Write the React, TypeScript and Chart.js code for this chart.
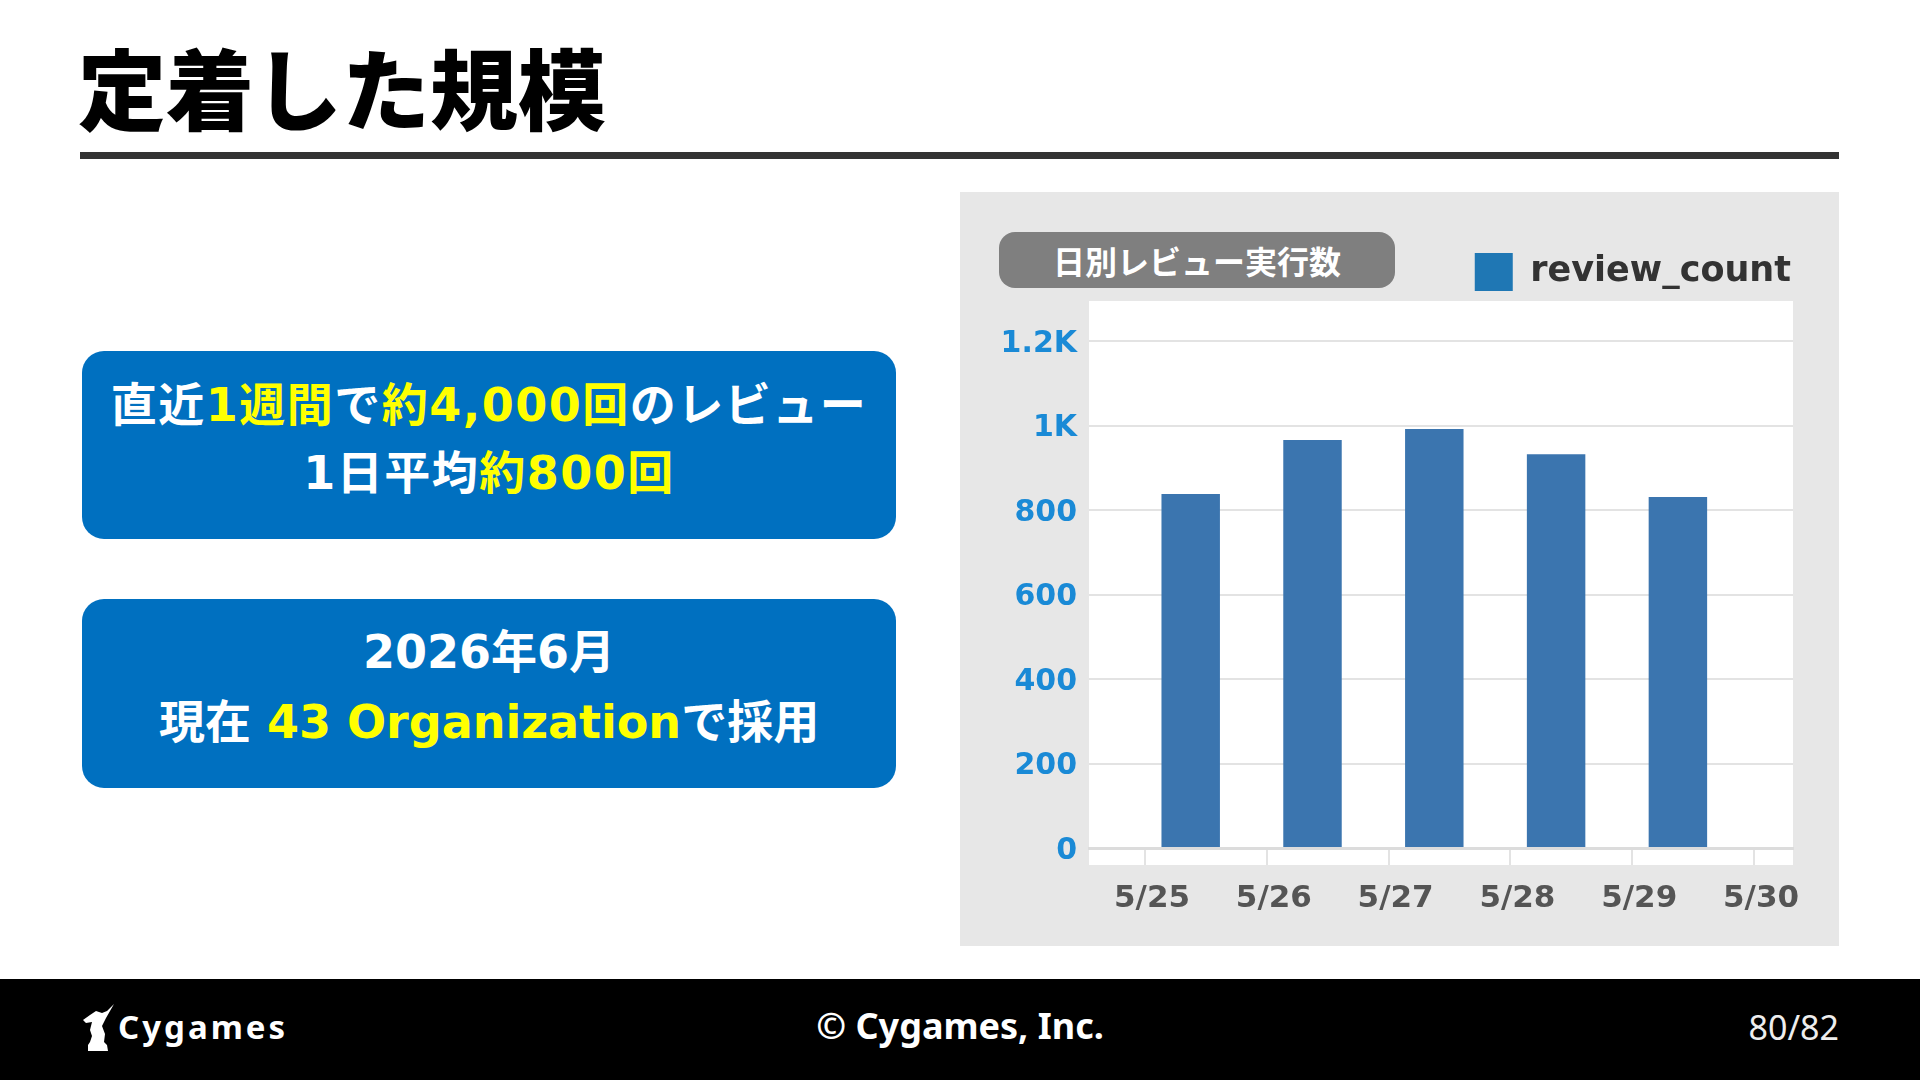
import React, { useEffect, useRef } from "react";
import { Chart, registerables } from "chart.js";

Chart.register(...registerables);

// ---- data ----
const dateLabels = ["5/25", "5/26", "5/27", "5/28", "5/29", "5/30"];
const reviewCounts = [838, 966, 992, 932, 831];
const seriesName = "review_count";
const chartTitle = "日別レビュー実行数";
const utcOffsetDays = 9 / 24; // bars timestamped 00:00 UTC shown on a JST day axis
const yTickStep = 200;
const yTickMax = 1200;

const plotBackground = {
  id: "plotBackground",
  beforeDraw(chart: any) {
    const { ctx, chartArea: a } = chart;
    ctx.save();
    ctx.fillStyle = "#ffffff";
    ctx.fillRect(a.left, a.top, a.right - a.left, a.bottom - a.top + 17);
    ctx.restore();
  },
};

const legendNudge = {
  id: "legendNudge",
  afterLayout(chart: any) {
    if (chart.legend) {
      chart.legend.left += 8;
      chart.legend.right += 8;
    }
  },
};

function ReviewChart() {
  const ref = useRef<HTMLCanvasElement | null>(null);
  useEffect(() => {
    if (!ref.current) return;
    const chart = new Chart(ref.current, {
      type: "bar",
      data: {
        datasets: [
          {
            label: seriesName,
            data: reviewCounts.map((v, i) => ({ x: i + utcOffsetDays, y: v })),
            backgroundColor: "#3b75af",
            borderWidth: 0,
            categoryPercentage: 0.8,
            barPercentage: 0.6,
          },
        ],
      },
      options: {
        animation: false,
        responsive: true,
        maintainAspectRatio: false,
        layout: { padding: { left: 0, right: 46, top: 0, bottom: 0 } },
        plugins: {
          tooltip: { enabled: false },
          legend: {
            position: "top",
            align: "end",
            labels: {
              boxWidth: 38,
              boxHeight: 38,
              padding: 10,
              color: "#333333",
              font: { family: "'DejaVu Sans'", weight: "bold", size: 35 },
              generateLabels: (c: any) =>
                Chart.defaults.plugins.legend.labels
                  .generateLabels(c)
                  .map((l: any) => ({ ...l, fillStyle: "#1f77b4", strokeStyle: "#1f77b4", lineWidth: 0 })),
            },
          },
        },
        scales: {
          x: {
            type: "linear",
            min: -0.46,
            max: 5.32,
            offset: false,
            afterFit: (s: any) => {
              s.height = 97;
            },
            grid: {
              offset: false,
              drawOnChartArea: false,
              drawTicks: true,
              tickLength: 17,
              color: "#e3e3e3",
              lineWidth: 2,
            },
            border: { display: true, color: "#dcdcdc", width: 3 },
            ticks: {
              stepSize: 1,
              includeBounds: false,
              autoSkip: false,
              maxRotation: 0,
              padding: 15,
              labelOffset: 7,
              color: "#555555",
              font: { family: "'DejaVu Sans'", weight: "bold", size: 31 },
              callback: (v: any) => {
                const i = Math.round(Number(v));
                return Math.abs(Number(v) - i) < 1e-6 ? dateLabels[i] ?? "" : "";
              },
            },
          },
          y: {
            min: 0,
            max: 1295,
            afterFit: (s: any) => {
              s.width = 129;
            },
            afterBuildTicks: (s: any) => {
              s.ticks = s.ticks.filter((t: any) => t.value % yTickStep === 0 && t.value <= yTickMax);
            },
            grid: { drawTicks: false, color: "#e3e3e3", lineWidth: 2 },
            border: { display: false },
            ticks: {
              stepSize: yTickStep,
              includeBounds: false,
              padding: 12,
              labelOffset: 3,
              color: "#1a8ad6",
              font: { family: "'DejaVu Sans'", weight: "bold", size: 30 },
              callback: (v: any) => (Number(v) >= 1000 ? Number(v) / 1000 + "K" : String(v)),
            },
          },
        },
      },
      plugins: [plotBackground, legendNudge],
    } as any);
    return () => chart.destroy();
  }, []);
  return <canvas ref={ref} />;
}

const jp = "'Noto Sans CJK JP', sans-serif";
const mixed = "'DejaVu Sans', 'Noto Sans CJK JP', sans-serif";
const Y = ({ children }: { children: React.ReactNode }) => <span style={{ color: "#ffff00" }}>{children}</span>;

export default function App() {
  return (
    <div
      style={{
        position: "fixed",
        left: 0,
        top: 0,
        width: 1920,
        height: 1080,
        background: "#ffffff",
        overflow: "hidden",
        fontFamily: jp,
      }}
    >
      <div
        style={{
          position: "absolute",
          left: 78,
          top: 41,
          fontSize: 88,
          lineHeight: "88px",
          fontWeight: 900,
          color: "#000",
          whiteSpace: "nowrap",
        }}
      >
        定着した規模
      </div>
      <div style={{ position: "absolute", left: 80, top: 152, width: 1759, height: 7, background: "#333" }} />

      <div
        style={{
          position: "absolute",
          left: 82,
          top: 351,
          width: 814,
          height: 188,
          borderRadius: 22,
          background: "#0070c0",
          color: "#fff",
          fontFamily: mixed,
          fontWeight: 700,
          fontSize: 46,
          lineHeight: "68px",
          letterSpacing: 1.5,
          display: "flex",
          flexDirection: "column",
          alignItems: "center",
          justifyContent: "center",
          paddingBottom: 12,
          boxSizing: "border-box",
          whiteSpace: "nowrap",
        }}
      >
        <div>
          直近<Y>1週間</Y>で<Y>約4,000回</Y>のレビュー
        </div>
        <div>
          1日平均<Y>約800回</Y>
        </div>
      </div>

      <div
        style={{
          position: "absolute",
          left: 82,
          top: 599,
          width: 814,
          height: 189,
          borderRadius: 22,
          background: "#0070c0",
          color: "#fff",
          fontFamily: mixed,
          fontWeight: 700,
          fontSize: 46,
          lineHeight: "70px",
          display: "flex",
          flexDirection: "column",
          alignItems: "center",
          justifyContent: "center",
          paddingBottom: 13,
          boxSizing: "border-box",
          whiteSpace: "nowrap",
        }}
      >
        <div>2026年6月</div>
        <div>
          現在 <Y>43 Organization</Y>で採用
        </div>
      </div>

      <div style={{ position: "absolute", left: 960, top: 192, width: 879, height: 754, background: "#e7e7e7" }} />
      <div
        style={{
          position: "absolute",
          left: 999,
          top: 232,
          width: 396,
          height: 56,
          borderRadius: 16,
          background: "#7f7f7f",
          color: "#fff",
          fontWeight: 700,
          fontSize: 32,
          lineHeight: "56px",
          textAlign: "center",
          whiteSpace: "nowrap",
        }}
      >
        {chartTitle}
      </div>
      <div style={{ position: "absolute", left: 960, top: 243, width: 879, height: 702 }}>
        <ReviewChart />
      </div>

      <div style={{ position: "absolute", left: 0, top: 979, width: 1920, height: 101, background: "#000" }}>
        <svg
          style={{ position: "absolute", left: 80, top: 24 }}
          width="36"
          height="50"
          viewBox="0 0 36 50"
        >
          <path
            d="M8 48 L28 48 L27 42 L24 39 L25 31 L22 23 L26 15 L34 1 L27 8 L22 10 L16 8 L10 12 L3 17 L6 20 L12 19 L10 27 L12 33 L10 39 L8 42 Z"
            fill="#fff"
          />
        </svg>
        <div
          style={{
            position: "absolute",
            left: 118,
            top: 26,
            fontFamily: "'Noto Sans', sans-serif",
            fontWeight: 700,
            fontSize: 33,
            lineHeight: "44px",
            letterSpacing: 3,
            color: "#fff",
          }}
        >
          Cygames
        </div>
        <div
          style={{
            position: "absolute",
            left: 0,
            width: 1920,
            top: 25,
            textAlign: "center",
            fontFamily: "'Noto Sans', sans-serif",
            fontWeight: 700,
            fontSize: 36,
            lineHeight: "44px",
            color: "#fff",
          }}
        >
          © Cygames, Inc.
        </div>
        <div
          style={{
            position: "absolute",
            right: 81,
            top: 26,
            fontFamily: "'Noto Sans', sans-serif",
            fontWeight: 400,
            fontSize: 34,
            lineHeight: "44px",
            color: "#eeeeee",
          }}
        >
          80/82
        </div>
      </div>
    </div>
  );
}
